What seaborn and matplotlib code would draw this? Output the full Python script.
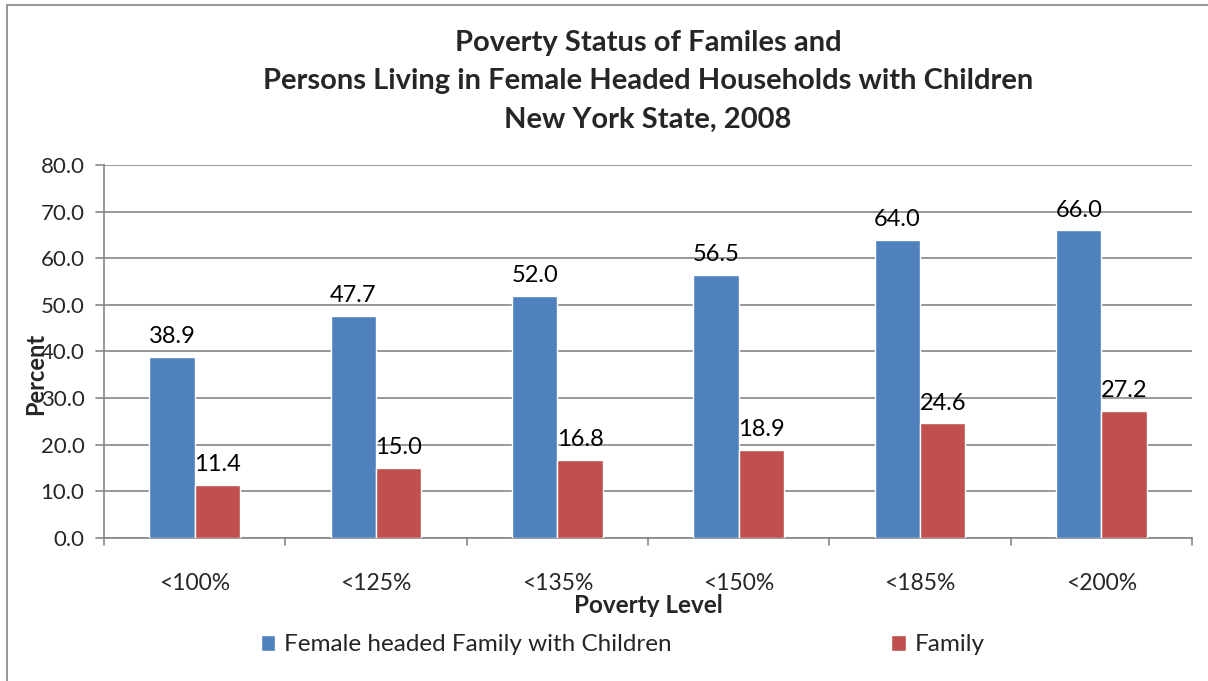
import pandas as pd
import matplotlib.pyplot as plt
import seaborn as sns
from matplotlib.patches import Rectangle

levels = ["<100%", "<125%", "<135%", "<150%", "<185%", "<200%"]
female_headed = [38.9, 47.7, 52.0, 56.5, 64.0, 66.0]
family = [11.4, 15.0, 16.8, 18.9, 24.6, 27.2]
series_names = ["Female headed Family with Children", "Family"]
colors = ["#4F81BD", "#C0504D"]

df = pd.DataFrame({
    "Poverty Level": levels * 2,
    "Percent": female_headed + family,
    "Series": [series_names[0]] * len(levels) + [series_names[1]] * len(levels),
})

sns.set_theme(style="white")
plt.rcParams["font.family"] = ["Lato", "DejaVu Sans"]

fig = plt.figure(figsize=(12.08, 6.81), dpi=100)
ax = fig.add_axes([0.0861, 0.2100, 0.9007, 0.5477])

sns.barplot(data=df, x="Poverty Level", y="Percent", hue="Series",
            palette=colors, width=0.5, saturation=1, ax=ax, zorder=3)

for container in ax.containers:
    ax.bar_label(container, fmt="%.1f", padding=7, fontsize=17, color="black")

ax.set_ylim(0, 80)
ax.set_yticks(range(0, 81, 10))
ax.set_yticklabels([f"{v:.1f}" for v in range(0, 81, 10)], fontsize=16)
ax.set_xlim(-0.5, len(levels) - 0.5)
ax.set_xticks(range(len(levels)))
ax.set_xticklabels(levels, fontsize=16.5)
ax.tick_params(axis="x", length=0, pad=25)
ax.tick_params(axis="y", length=0, pad=14)

# category boundary ticks on x, outward ticks on y
for b in [i - 0.5 for i in range(len(levels) + 1)]:
    ax.plot([b, b], [0, -1.5], color="#868686", lw=1.2, clip_on=False)
for v in range(0, 81, 10):
    ax.plot([-0.545, -0.5], [v, v], color="#868686", lw=1.2, clip_on=False)

ax.yaxis.grid(True, color="#868686", lw=1.2, zorder=0)
ax.set_axisbelow(True)
for s in ["top", "right"]:
    ax.spines[s].set_visible(False)
for s in ["left", "bottom"]:
    ax.spines[s].set_color("#868686")
    ax.spines[s].set_linewidth(1.2)

ax.set_xlabel("Poverty Level", fontsize=17.5, fontweight="bold", labelpad=0)
# the reference lets this label sit on top of the tick numbers
ax.set_ylabel("Percent", fontsize=17, fontweight="bold")
ax.yaxis.set_label_coords(-0.052, 0.44)

ax.set_title("Poverty Status of Familes and\nPersons Living in Female Headed Households with Children\nNew York State, 2008",
             fontsize=21, fontweight="bold", linespacing=1.58, pad=27)

sns.move_legend(ax, "upper left", bbox_to_anchor=(0.124, -0.2), ncol=2,
                frameon=False, title=None, fontsize=17.5, handlelength=0.6,
                handleheight=0.6, handletextpad=0.35, columnspacing=9.05)

fig.patches.append(Rectangle((0.006, -0.01), 1.1, 1.003, transform=fig.transFigure,
                             fill=False, edgecolor="#868686", lw=1.2))

fig.savefig("out.png", dpi=100)
